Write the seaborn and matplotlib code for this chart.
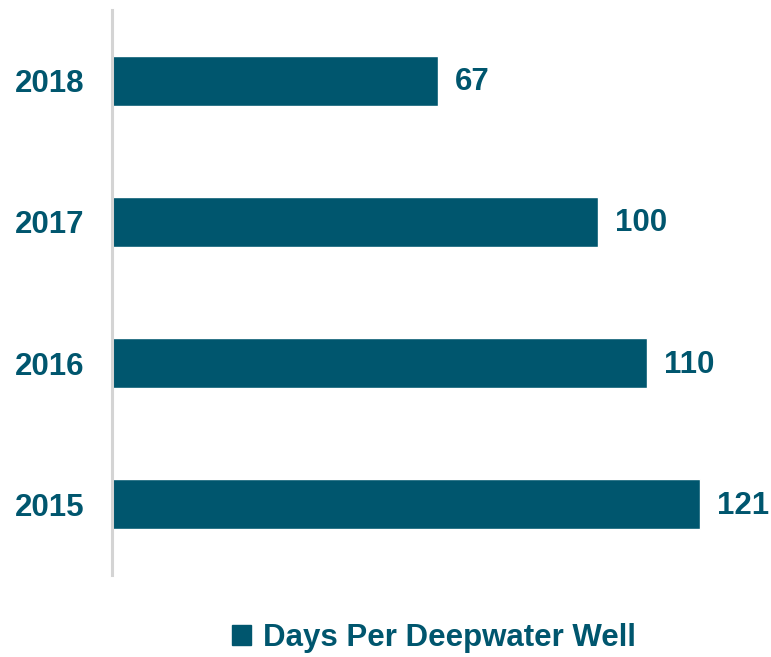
import pandas as pd
import matplotlib
matplotlib.use("Agg")
from matplotlib import pyplot as plt
from matplotlib.patches import Patch
import seaborn as sns

years = ["2018", "2017", "2016", "2015"]
days = [67, 100, 110, 121]
series_name = "Days Per Deepwater Well"

teal = "#00566E"

sns.set_theme(style="white")
plt.rcParams["font.family"] = ["Liberation Sans", "DejaVu Sans"]
plt.rcParams["font.weight"] = "bold"

df = pd.DataFrame({"Year": years, "Days": days})

fig = plt.figure(figsize=(7.71, 6.57), dpi=100)
ax = fig.add_axes([0.1453, 0.1248, 0.8547, 0.86])

sns.barplot(data=df, x="Days", y="Year", order=years, color=teal,
            width=0.355, saturation=1, ax=ax)

for p, v in zip(ax.patches, days):
    ax.annotate(str(v), (p.get_width(), p.get_y() + p.get_height() / 2),
                xytext=(12, -1), textcoords="offset points", va="center",
                ha="left", fontsize=22.5, fontweight="bold", color=teal)

ax.set_xlim(0, 135.5)
ax.set_ylim(3.5, -0.5)
ax.set_xlabel("")
ax.set_ylabel("")
ax.set_xticks([])
ax.tick_params(axis="y", length=0, pad=20, labelsize=22.5, labelcolor=teal)
for lab in ax.get_yticklabels():
    lab.set_fontweight("bold")

for s in ["top", "right", "bottom"]:
    ax.spines[s].set_visible(False)
ax.spines["left"].set_color("#D4D4D4")
ax.spines["left"].set_linewidth(2.2)

handle = Patch(facecolor=teal, edgecolor=teal)
leg = fig.legend([handle], [series_name], loc="center", bbox_to_anchor=(0.563, 0.029),
                 frameon=False, handlelength=0.6, handleheight=0.6,
                 handletextpad=0.4, prop={"weight": "bold", "size": 22.5})
for t in leg.get_texts():
    t.set_color(teal)

fig.savefig("out.png", dpi=100)
